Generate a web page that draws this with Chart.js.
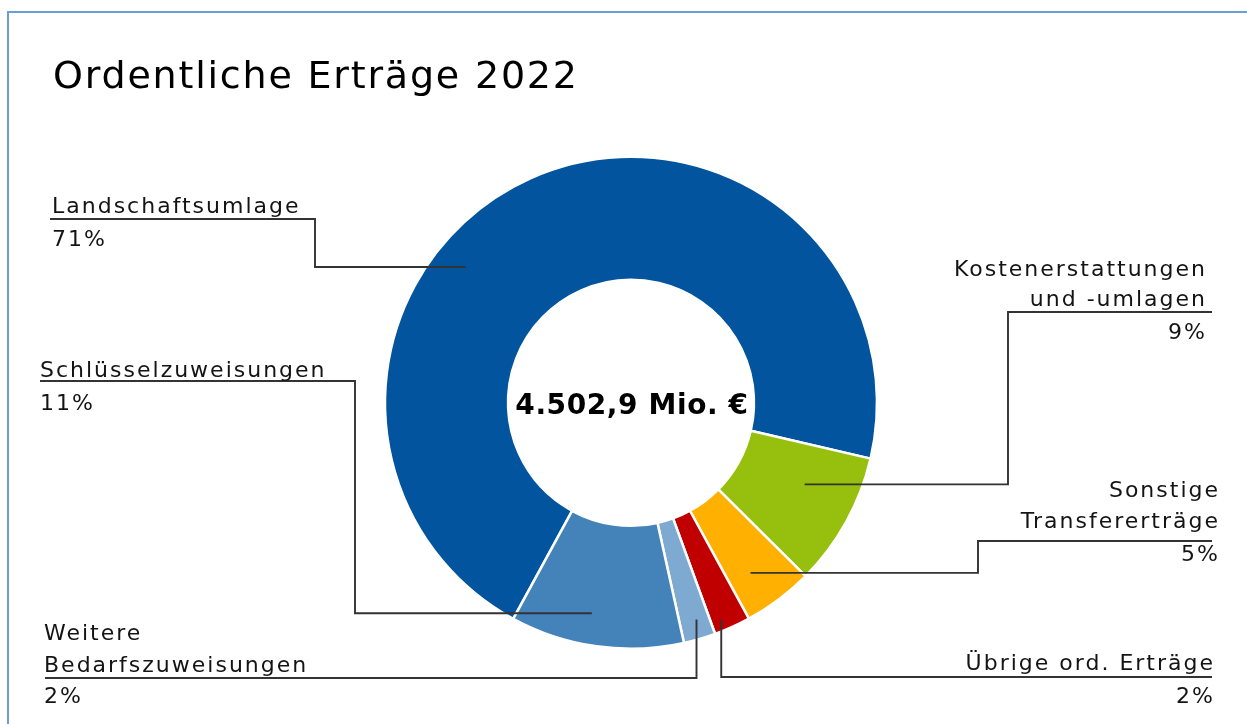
<!DOCTYPE html>
<html lang="de">
<head>
<meta charset="utf-8">
<title>Ordentliche Erträge 2022</title>
<script src="https://cdn.jsdelivr.net/npm/chart.js@4.4.1/dist/chart.umd.min.js"></script>
<style>
  html, body { margin: 0; padding: 0; background: #ffffff; }
  #wrap { position: relative; width: 1247px; height: 724px; overflow: hidden; }
  #frame { position: absolute; left: 7px; top: 11px; width: 1300px; height: 800px;
           border-left: 2px solid #6a9fd6; border-top: 2px solid #6a9fd6; box-sizing: border-box; }
  canvas { position: absolute; left: 0; top: 0; }
</style>
</head>
<body>
<div id="wrap">
  <div id="frame"></div>
  <canvas id="c" width="1247" height="724"></canvas>
</div>
<script>
// ---- data ----
const categories = [
  'Landschaftsumlage',
  'Kostenerstattungen und -umlagen',
  'Sonstige Transfererträge',
  'Übrige ord. Erträge',
  'Weitere Bedarfszuweisungen',
  'Schlüsselzuweisungen'
];
const shares = [70.7, 8.8, 4.6, 2.4, 2.1, 11.4];   // percent of total
const totalMio = 4502.9;                            // Mio. €
const titleText = 'Ordentliche Erträge 2022';

// ---- styles ----
const colors = ['#02549e', '#97bf0d', '#ffb000', '#c00000', '#7eaad2', '#4383ba'];
const FONT = 'DejaVu Sans, Verdana, sans-serif';
const LABEL_SPACING = 2.0;

// ---- label layout (positions of the callout texts and elbows) ----
const labelLayout = [
  { wrap: 0, align: 'left',  x: 52,   baselines: [213, 246],      anchor: [0.396, 0.74], path: 'h', elbowX: 315,  underY: 219, endX: 50 },
  { wrap: 1, align: 'right', x: 1205, baselines: [276, 306, 339], anchor: [0.38, 0.56],  path: 'h', elbowX: 1008, underY: 312, endX: 1212 },
  { wrap: 1, align: 'right', x: 1218, baselines: [497, 528, 561], anchor: [0.61, 0.69],  path: 'h', elbowX: 978,  underY: 541, endX: 1212 },
  { wrap: 0, align: 'right', x: 1213, baselines: [670, 703],      anchor: [0.70, 0.91],  path: 'v', underY: 677, endX: 1212 },
  { wrap: 1, align: 'left',  x: 44,   baselines: [640, 672, 703], anchor: [0.42, 0.84],  path: 'v', underY: 678, endX: 45 },
  { wrap: 0, align: 'left',  x: 40,   baselines: [377, 410],      anchor: [0.56, 0.74],  path: 'h', elbowX: 355,  underY: 381, endX: 40 }
];

function splitLines(name, wrap) {
  if (!wrap) return [name];
  const w = name.split(' ');
  return [w.slice(0, wrap).join(' '), w.slice(wrap).join(' ')];
}
function formatDe(v) {
  const fixed = v.toFixed(1).split('.');
  const intPart = fixed[0].replace(/\B(?=(\d{3})+(?!\d))/g, '.');
  return intPart + ',' + fixed[1];
}

const calloutPlugin = {
  id: 'callouts',
  beforeDraw(chart) {
    chart.ctx.letterSpacing = '1.8px';
  },
  afterDraw(chart) {
    const ctx = chart.ctx;
    const meta = chart.getDatasetMeta(0);
    ctx.save();
    // leader lines
    ctx.strokeStyle = '#333333';
    ctx.lineWidth = 1.9;
    ctx.lineJoin = 'miter';
    meta.data.forEach((arc, i) => {
      const L = labelLayout[i];
      const p = arc.getProps(['x', 'y', 'startAngle', 'endAngle', 'innerRadius', 'outerRadius'], true);
      const a = p.startAngle + (p.endAngle - p.startAngle) * L.anchor[0];
      const r = p.innerRadius + (p.outerRadius - p.innerRadius) * L.anchor[1];
      const ax = p.x + Math.cos(a) * r;
      const ay = p.y + Math.sin(a) * r;
      ctx.beginPath();
      ctx.moveTo(ax, ay);
      if (L.path === 'h') {
        ctx.lineTo(L.elbowX, ay);
        ctx.lineTo(L.elbowX, L.underY);
      } else {
        ctx.lineTo(ax, L.underY);
      }
      ctx.lineTo(L.endX, L.underY);
      ctx.stroke();
    });
    // label texts
    ctx.fillStyle = '#141414';
    ctx.font = '22px ' + FONT;
    ctx.letterSpacing = LABEL_SPACING + 'px';
    ctx.textBaseline = 'alphabetic';
    categories.forEach((name, i) => {
      const L = labelLayout[i];
      const lines = splitLines(name, L.wrap).concat([Math.round(shares[i]) + '%']);
      ctx.textAlign = L.align;
      lines.forEach((t, k) => {
        const dx = L.align === 'right' ? LABEL_SPACING : 0;
        ctx.fillText(t, L.x + dx, L.baselines[k]);
      });
    });
    // centre total
    const c = meta.data[0];
    ctx.font = 'bold 28px ' + FONT;
    ctx.letterSpacing = '0.6px';
    ctx.fillStyle = '#000000';
    ctx.textAlign = 'center';
    ctx.textBaseline = 'middle';
    ctx.fillText(formatDe(totalMio) + ' Mio. €', c.x + 1, c.y + 4);
    ctx.restore();
  }
};

new Chart(document.getElementById('c'), {
  type: 'doughnut',
  data: {
    labels: categories,
    datasets: [{
      data: shares,
      backgroundColor: colors,
      borderColor: '#ffffff',
      borderWidth: 2.5,
      hoverOffset: 0
    }]
  },
  options: {
    responsive: false,
    devicePixelRatio: 1,
    animation: false,
    rotation: 208.6,
    radius: 246,
    cutout: '50%',
    layout: { padding: { left: 53, right: 38, top: 0, bottom: 19 } },
    plugins: {
      legend: { display: false },
      tooltip: { enabled: false },
      title: {
        display: true,
        text: titleText,
        align: 'start',
        color: '#000000',
        font: { family: FONT, size: 38, weight: 'normal', lineHeight: 1.2 },
        padding: { top: 55, bottom: 0 }
      }
    }
  },
  plugins: [calloutPlugin]
});
</script>
</body>
</html>
